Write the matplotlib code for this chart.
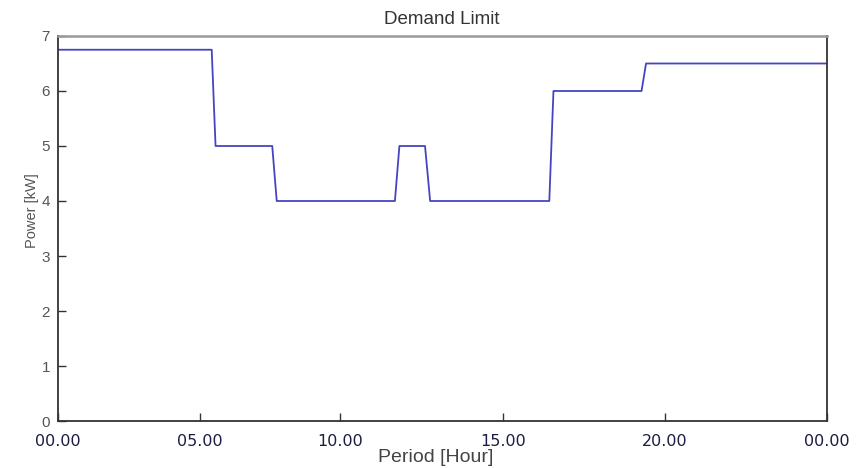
import matplotlib
matplotlib.use("Agg")
import matplotlib.pyplot as plt

# Step profile of the demand limit (x in axis hours 0..24, y in kW)
hours = [0.0, 4.79, 4.91, 6.68, 6.82, 10.51, 10.65, 11.45, 11.61,
         15.33, 15.46, 18.21, 18.35, 24.0]
power = [6.75, 6.75, 5.0, 5.0, 4.0, 4.0, 5.0, 5.0, 4.0,
         4.0, 6.0, 6.0, 6.5, 6.5]

xtick_pos = [0.0, 4.42, 8.80, 13.89, 18.94, 24.0]
xtick_labels = ["00.00", "05.00", "10.00", "15.00", "20.00", "00.00"]
ytick_vals = [0, 1, 2, 3, 4, 5, 6, 7]

fig = plt.figure(figsize=(8.57, 4.68), dpi=100)
ax = fig.add_axes([0.068, 0.1004, 0.897, 0.8227])

ax.plot(hours, power, color="#4545c0", lw=1.3)

ax.set_xlim(0, 24)
ax.set_ylim(0, 7)
ax.set_xticks(xtick_pos)
ax.set_xticklabels(xtick_labels, fontsize=11.5, color="#1c1c44",
                   family="DejaVu Sans")
ax.set_yticks(ytick_vals)
ax.set_yticklabels([str(v) for v in ytick_vals], fontsize=11,
                   color="#555555", family="Liberation Sans")
ax.tick_params(axis="both", direction="in", length=6, width=1,
               color="#333333")
ax.tick_params(axis="x", pad=9)
ax.tick_params(axis="y", pad=6)

for s in ["left", "bottom", "right"]:
    ax.spines[s].set_color("#333333")
    ax.spines[s].set_linewidth(1.3)
ax.spines["top"].set_color("#999999")
ax.spines["top"].set_linewidth(1.8)

fig.text(0.5155, 0.959, "Demand Limit", ha="center", va="center",
         fontsize=13.5, color="#333333", family="Liberation Sans")
fig.text(0.508, 0.0215, "Period [Hour]", ha="center", va="center",
         fontsize=14, color="#444444", family="Liberation Sans")
fig.text(0.0375, 0.549, "Power [kW]", ha="center", va="center",
         rotation=90, fontsize=10.5, color="#555555", family="Liberation Sans")

fig.savefig("out.png", dpi=100)
